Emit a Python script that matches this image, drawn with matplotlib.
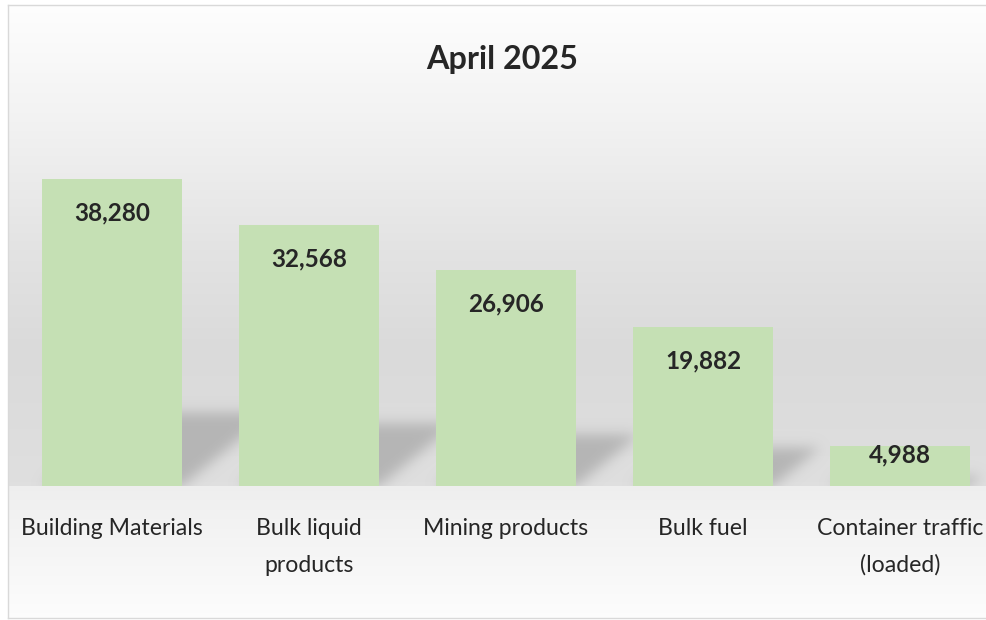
import numpy as np
import matplotlib
matplotlib.use("Agg")
import matplotlib.pyplot as plt
from matplotlib.collections import PolyCollection

plt.rcParams["font.family"] = ["Lato", "DejaVu Sans"]

categories = ["Building Materials", "Bulk liquid\nproducts", "Mining products",
              "Bulk fuel", "Container traffic\n(loaded)"]
values = [38280, 32568, 26906, 19882, 4988]
title = "April 2025"

BAR = "#c5e0b4"
TXT = "#262626"


def soft_shadow(im, dpi, sigma=4.5, tone=0.71):
    # blur only the alpha, keep a flat grey
    pad = int(3 * sigma) + 2
    a = np.pad(im[..., 3], pad)
    t = np.arange(-pad, pad + 1)
    k = np.exp(-t ** 2 / (2 * sigma ** 2))
    k /= k.sum()
    a = np.apply_along_axis(np.convolve, 0, a, k, "same")
    a = np.apply_along_axis(np.convolve, 1, a, k, "same")
    out = np.zeros(a.shape + (4,))
    out[..., :3] = tone
    out[..., 3] = np.clip(a, 0, 1)
    return out, -pad, -pad


fig = plt.figure(figsize=(9.86, 6.2), dpi=100)
ax = fig.add_axes([8 / 986, 2 / 620, 988 / 986, 613 / 620])
ax.set_xlim(-0.528, 4.487)
ax.set_ylim(-16459, 59976)
ax.set_xticks([])
ax.set_yticks([])
for sp in ax.spines.values():
    sp.set_color("#d9d9d9")
    sp.set_linewidth(1)

# background: grey wall above the baseline, pale floor below
ypx = np.linspace(5, 618, 600)
wall = np.interp(ypx, [5, 120, 250, 350, 486], [0.995, 0.95, 0.89, 0.855, 0.875])
floor = np.interp(ypx, [486, 618], [0.935, 0.99])
g = np.where(ypx < 486, wall, floor)
ax.imshow(np.repeat(g[:, None, None], 3, axis=2), extent=[0, 1, 0, 1],
          transform=ax.transAxes, aspect="auto", zorder=0, interpolation="bilinear")

x = np.arange(len(values))
w = 0.71

# perspective shadows behind each bar
polys = []
for xi, v in zip(x, values):
    h = 0.24 * v
    s = h * 5.0e-5
    polys.append([(xi - w / 2, 0), (xi + w / 2, 0), (xi + w / 2 + s, h), (xi - w / 2 + s, h)])
sh = PolyCollection(polys, facecolors="k", edgecolors="none", zorder=1)
sh.set_agg_filter(soft_shadow)
ax.add_collection(sh)

fl = floor[ypx >= 486]
ax.imshow(np.repeat(fl[:, None, None], 3, axis=2), extent=[-0.528, 4.487, -16459, 0],
          aspect="auto", zorder=2, interpolation="bilinear")

ax.bar(x, values, width=w, color=BAR, zorder=3)

for xi, v in zip(x, values):
    off = -34 if v > 10000 else -9
    ax.annotate(f"{v:,}", xy=(xi, v), xytext=(0, off), textcoords="offset pixels",
                ha="center", va="center", fontsize=17.5, fontweight="bold", color=TXT, zorder=4)

for xi, lab in zip(x, categories):
    for j, line in enumerate(lab.split("\n")):
        ax.annotate(line, xy=(xi, 0), xytext=(0, -49 - 36.7 * j), textcoords="offset pixels",
                    ha="center", va="baseline", fontsize=16.6, color=TXT, zorder=4)

ax.text(0.5, 0.895, title, transform=ax.transAxes, ha="center", va="baseline",
        fontsize=23.3, fontweight="bold", color=TXT)

fig.savefig("out.png", dpi=100)
